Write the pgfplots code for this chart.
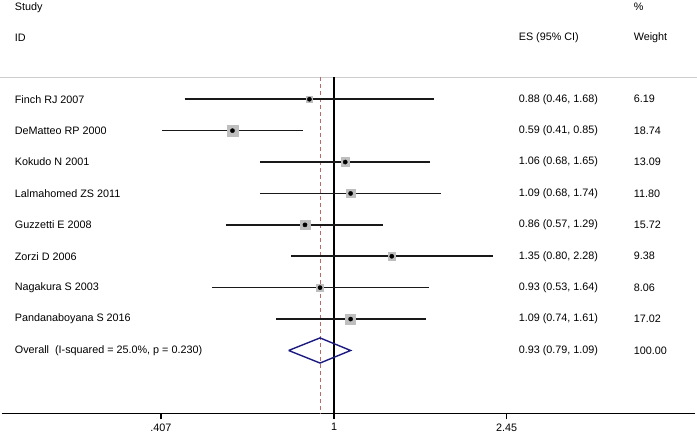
\documentclass[border=0pt]{standalone}
\usepackage{pgfplots}
\pgfplotsset{compat=1.18}
\usepackage{fontspec}
\setmainfont{Liberation Sans}
\usetikzlibrary{calc}
\definecolor{ciline}{RGB}{25,25,25}
\definecolor{boxgray}{RGB}{190,190,190}
\definecolor{refred}{RGB}{185,105,105}
\definecolor{navyd}{RGB}{26,26,128}
\definecolor{sepgray}{RGB}{205,205,205}
\begin{document}
\fontsize{10.8pt}{12.9pt}\selectfont
\begin{tikzpicture}
\begin{axis}[
  name=a,
  scale only axis,
  width=693pt, height=413.3pt,
  xmode=log,
  xmin=0.1782, xmax=6.523,
  ymin=-1, ymax=12.16,
  hide y axis,
  axis x line*=bottom,
  x axis line style={black, line width=1.2pt, -},
  xtick={0.407,1,2.45},
  xticklabels={.407,1,2.45},
  xtick pos=bottom,
  xtick align=outside,
  tickwidth=6pt,
  xminorticks=false,
  xtick style={black, line width=1pt},
  xticklabel style={font=\fontsize{10.8pt}{12pt}\selectfont, inner sep=1pt, yshift=-3pt},
  clip=false,
  unbounded coords=jump,
]
% separator line
\draw[sepgray, line width=1.1pt] (axis cs:0.1764,9.70) -- (axis cs:6.59,9.70);
% tick marks (6pt below the axis line = 0.19 row units)
\addplot[black, line width=1.2pt, forget plot] coordinates {
 (0.407,-1) (0.407,-1.19) (nan,nan)
 (1,-1) (1,-1.19) (nan,nan)
 (2.45,-1) (2.45,-1.19)
};
% vertical line of no effect
\addplot[black, line width=1.1pt] coordinates {(1,9.70) (1,-1)};
% overall estimate dashed line
\addplot[refred, line width=1.1pt, dash pattern=on 4pt off 3pt] coordinates {(0.93,9.70) (0.93,-1)};
% confidence intervals
\addplot[ciline, line width=1.6pt] coordinates {
 (0.46,9) (1.68,9) (nan,nan)
 (0.41,8) (0.85,8) (nan,nan)
 (0.68,7) (1.65,7) (nan,nan)
 (0.68,6) (1.74,6) (nan,nan)
 (0.57,5) (1.29,5) (nan,nan)
 (0.80,4) (2.28,4) (nan,nan)
 (0.53,3) (1.64,3) (nan,nan)
 (0.74,2) (1.61,2)
};
% weight boxes
\addplot[scatter, only marks, mark=square*,
  scatter/use mapped color={draw=boxgray, fill=boxgray},
  visualization depends on={1.22*sqrt(\thisrow{w}) \as \ms},
  scatter/@pre marker code/.append style={/tikz/mark size=\ms pt},
] table {
es y w
0.88 9 6.19
0.59 8 18.74
1.06 7 13.09
1.09 6 11.80
0.86 5 15.72
1.35 4 9.38
0.93 3 8.06
1.09 2 17.02
};
% point estimates
\addplot[only marks, mark=*, mark size=2.1pt, black] table {
es y
0.88 9
0.59 8
1.06 7
1.09 6
0.86 5
1.35 4
0.93 3
1.09 2
};
% overall diamond
\addplot[navyd, line width=1.4pt] coordinates {(0.79,1) (0.93,1.4) (1.09,1) (0.93,0.6) (0.79,1)};
% headers
\node[anchor=west] at (axis cs:0.1868,11.93) {Study};
\node[anchor=west] at (axis cs:0.1868,10.96) {ID};
\node[anchor=west] at (axis cs:2.561,10.96) {ES (95\% CI)};
\node[anchor=west] at (axis cs:4.654,11.93) {\%};
\node[anchor=west] at (axis cs:4.654,10.96) {Weight};
% study labels
\node[anchor=west] at (axis cs:0.1868,9) {Finch RJ 2007};
\node[anchor=west] at (axis cs:0.1868,8) {DeMatteo RP 2000};
\node[anchor=west] at (axis cs:0.1868,7) {Kokudo N 2001};
\node[anchor=west] at (axis cs:0.1868,6) {Lalmahomed ZS 2011};
\node[anchor=west] at (axis cs:0.1868,5) {Guzzetti E 2008};
\node[anchor=west] at (axis cs:0.1868,4) {Zorzi D 2006};
\node[anchor=west] at (axis cs:0.1868,3) {Nagakura S 2003};
\node[anchor=west] at (axis cs:0.1868,2) {Pandanaboyana S 2016};
\node[anchor=west] at (axis cs:0.1868,1) {Overall\ \ (I-squared = 25.0\%, p = 0.230)};
% ES column
\node[anchor=west] at (axis cs:2.561,9) {0.88 (0.46, 1.68)};
\node[anchor=west] at (axis cs:2.561,8) {0.59 (0.41, 0.85)};
\node[anchor=west] at (axis cs:2.561,7) {1.06 (0.68, 1.65)};
\node[anchor=west] at (axis cs:2.561,6) {1.09 (0.68, 1.74)};
\node[anchor=west] at (axis cs:2.561,5) {0.86 (0.57, 1.29)};
\node[anchor=west] at (axis cs:2.561,4) {1.35 (0.80, 2.28)};
\node[anchor=west] at (axis cs:2.561,3) {0.93 (0.53, 1.64)};
\node[anchor=west] at (axis cs:2.561,2) {1.09 (0.74, 1.61)};
\node[anchor=west] at (axis cs:2.561,1) {0.93 (0.79, 1.09)};
% weight column
\node[anchor=west] at (axis cs:4.654,9) {6.19};
\node[anchor=west] at (axis cs:4.654,8) {18.74};
\node[anchor=west] at (axis cs:4.654,7) {13.09};
\node[anchor=west] at (axis cs:4.654,6) {11.80};
\node[anchor=west] at (axis cs:4.654,5) {15.72};
\node[anchor=west] at (axis cs:4.654,4) {9.38};
\node[anchor=west] at (axis cs:4.654,3) {8.06};
\node[anchor=west] at (axis cs:4.654,2) {17.02};
\node[anchor=west] at (axis cs:4.654,1) {100.00};
\end{axis}
\pgfresetboundingbox
\path[use as bounding box] ($(a.south west)+(-2pt,-22.7pt)$) rectangle ($(a.north east)+(2pt,0pt)$);
\end{tikzpicture}
\end{document}
